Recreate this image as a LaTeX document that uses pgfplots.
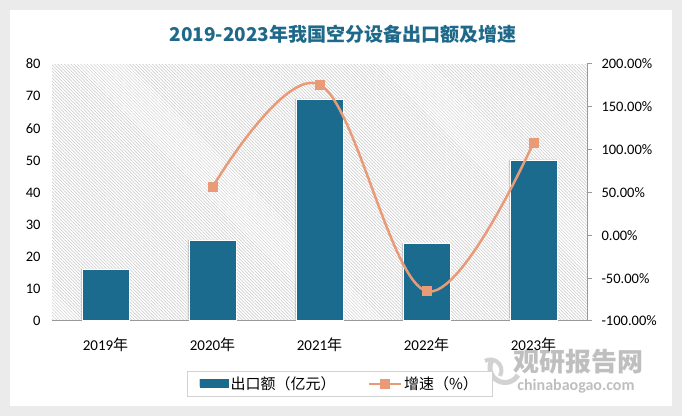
\documentclass[border=0pt]{standalone}
\usepackage{pgfplots}
\pgfplotsset{compat=1.18}
\usepackage{fontspec}
\setmainfont{Carlito}
\newfontfamily\cjk{Noto Sans CJK SC}
\usetikzlibrary{patterns.meta,shadows}

\definecolor{barblue}{RGB}{27,107,143}
\definecolor{lineorange}{RGB}{233,155,120}
\definecolor{titleblue}{RGB}{30,105,138}
\definecolor{framegray}{RGB}{235,235,235}

\begin{document}
\begin{tikzpicture}
% panel
\fill[framegray] (0bp,0bp) rectangle (682bp,416bp);
\fill[white] (10bp,10bp) rectangle (672bp,406bp);
\useasboundingbox (0bp,0bp) rectangle (682bp,416bp);

% title
\node[font=\cjk\bfseries\fontsize{19bp}{21bp}\selectfont, text=titleblue] at (343bp,382bp)
  {2019-2023年我国空分设备出口额及增速};

% watermark
\draw[line width=5bp, gray!35] (492bp,56bp) arc (150:330:15bp);
\draw[line width=4bp, gray!35] (500bp,40bp) arc (330:480:11bp);
\node[font=\cjk\bfseries\fontsize{26bp}{28bp}\selectfont, text=gray!50] at (578bp,54bp) {观研报告网};
\node[font=\bfseries\fontsize{16bp}{18bp}\selectfont, text=gray!50] at (576bp,30bp) {chinabaogao.com};

\coordinate (O) at (52bp,95bp);

\begin{axis}[
  at={(O)}, anchor=south west,
  scale only axis, width=535bp, height=257bp,
  xmin=-0.5, xmax=4.5,
  ymin=0, ymax=80,
  axis background/.style={pattern={Lines[angle=-45,distance=2.3bp,line width=0.5bp]}, pattern color=gray!45},
  axis x line*=bottom, axis y line*=left,
  x axis line style={draw=gray!80, line width=1bp},
  y axis line style={draw=none},
  xtick={0,1,2,3,4},
  xticklabels={2019{\cjk 年},2020{\cjk 年},2021{\cjk 年},2022{\cjk 年},2023{\cjk 年}},
  x tick label style={font=\fontsize{15bp}{17bp}\selectfont, yshift=-13bp},
  xtick style={draw=none},
  ytick={0,10,...,80},
  yticklabels={0,10,20,30,40,50,60,70,80},
  y tick label style={font=\fontsize{14.5bp}{16bp}\selectfont, xshift=-8bp},
  ytick style={draw=none},
  legend style={at={(0.538,-0.245)}, anchor=center, draw=gray!35, line width=0.8bp,
    font=\cjk\fontsize{15bp}{17bp}\selectfont, inner xsep=12bp, inner ysep=3bp,
    /tikz/every even column/.append style={column sep=30bp}},
  legend columns=2,
]
\addplot[ybar, bar width=47bp, fill=barblue, draw=white, line width=1bp,
  drop shadow={shadow xshift=-1.5bp, shadow yshift=1bp, opacity=0.35},
  legend image code/.code={\fill[barblue] (0bp,-4bp) rectangle (28bp,4bp);}]
coordinates {(0,16) (1,25) (2,69) (3,24) (4,50)};
\addlegendentry{出口额（亿元）}
\addlegendimage{lineorange, line width=2.5bp, mark=square*, mark size=4bp,
  legend image code/.code={\draw[mark repeat=2,mark phase=2] plot coordinates {(0bp,0bp) (16bp,0bp) (32bp,0bp)};}}
\addlegendentry{增速（\%）}
\end{axis}

\begin{axis}[
  at={(O)}, anchor=south west,
  scale only axis, width=535bp, height=257bp,
  xmin=-0.5, xmax=4.5,
  ymin=-100, ymax=200,
  axis x line=none,
  axis y line*=right,
  y axis line style={draw=gray!80, line width=1bp},
  ytick={-100,-50,0,50,100,150,200},
  yticklabels={-100.00\%,-50.00\%,0.00\%,50.00\%,100.00\%,150.00\%,200.00\%},
  y tick label style={font=\fontsize{14.5bp}{16bp}\selectfont, xshift=6bp},
  tick align=outside, major tick length=5bp,
  ytick style={draw=gray!80, line width=1bp},
]
\addplot[lineorange, line width=2.5bp, smooth, tension=0.6, mark=square*, mark size=4.5bp,
  mark options={fill=lineorange, draw=lineorange, line width=0pt}]
coordinates {(1,56.25) (2,176) (3,-65.2) (4,108.3)};
\end{axis}
\end{tikzpicture}
\end{document}
